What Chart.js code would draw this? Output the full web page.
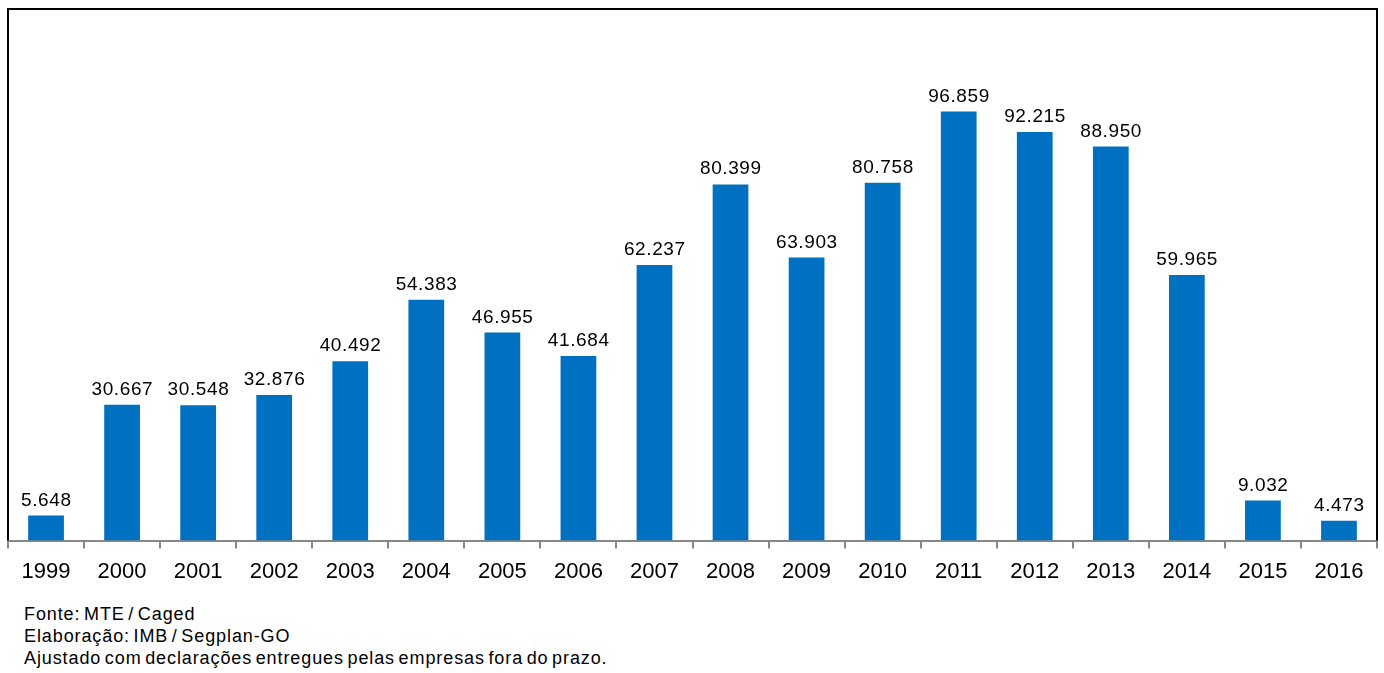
<!DOCTYPE html>
<html>
<head>
<meta charset="utf-8">
<script src="https://cdn.jsdelivr.net/npm/chart.js@4/dist/chart.umd.min.js"></script>
<style>
    html, body { margin: 0; padding: 0; background: #fff; }
    #wrap { position: relative; width: 1384px; height: 673px; }
    #chartBox { position: absolute; left: 0; top: 0; width: 1384px; height: 600px; }
    #notes {
        position: absolute; left: 24px; top: 603px;
        font-family: 'Liberation Sans', Arial, sans-serif; font-size: 18px; line-height: 22px; color: #000;
        letter-spacing: 0.9px; word-spacing: -2.3px; white-space: nowrap;
    }
</style>
</head>
<body>
<div id="wrap">
    <div id="chartBox"><canvas id="c"></canvas></div>
    <div id="notes">
        Fonte: MTE / Caged<br>
        Elaboração: IMB / Segplan-GO<br>
        Ajustado com declarações entregues pelas empresas fora do prazo.
    </div>
</div>
<script>
const years = ['1999', '2000', '2001', '2002', '2003', '2004', '2005', '2006', '2007',
    '2008', '2009', '2010', '2011', '2012', '2013', '2014', '2015', '2016'];
const values = [5648, 30667, 30548, 32876, 40492, 54383, 46955, 41684, 62237,
    80399, 63903, 80758, 96859, 92215, 88950, 59965, 9032, 4473];

// 5648 -> "5.648"
const fmt = v => String(v).replace(/\B(?=(\d{3})+(?!\d))/g, '.');

const frame = {
    id: 'frame',
    afterDraw(chart) {
        const { ctx, chartArea: a } = chart;
        ctx.save();
        ctx.strokeStyle = '#000';
        ctx.lineWidth = 2;
        ctx.beginPath();
        ctx.moveTo(a.left, a.bottom);
        ctx.lineTo(a.left, a.top);
        ctx.lineTo(a.right, a.top);
        ctx.lineTo(a.right, a.bottom);
        ctx.stroke();
        ctx.restore();
    }
};

const valueLabels = {
    id: 'valueLabels',
    afterDatasetsDraw(chart) {
        const { ctx } = chart;
        ctx.save();
        ctx.font = "19px 'Liberation Sans', Arial, sans-serif";
        ctx.letterSpacing = '0.6px';
        ctx.fillStyle = '#000';
        ctx.textAlign = 'center';
        ctx.textBaseline = 'alphabetic';
        chart.getDatasetMeta(0).data.forEach((bar, i) => {
            ctx.fillText(fmt(values[i]), bar.x + 0.3, bar.y - 10);
        });
        ctx.restore();
    }
};

new Chart(document.getElementById('c'), {
    type: 'bar',
    data: {
        labels: years,
        datasets: [{
            data: values,
            backgroundColor: '#0070C0',
            categoryPercentage: 1,
            barPercentage: 0.47
        }]
    },
    options: {
        responsive: true,
        maintainAspectRatio: false,
        animation: false,
        layout: { padding: { left: 8, right: 7, top: 9, bottom: 5 } },
        plugins: { legend: { display: false }, tooltip: { enabled: false } },
        scales: {
            y: { display: false, min: 0, max: 120000 },
            x: {
                border: { color: '#888', width: 2 },
                grid: { drawOnChartArea: false, color: '#888', lineWidth: 2, tickLength: 8 },
                ticks: {
                    color: '#000', padding: 10, maxRotation: 0,
                    font: { family: "'Liberation Sans', Arial, sans-serif", size: 22 }
                }
            }
        }
    },
    plugins: [frame, valueLabels]
});
</script>
</body>
</html>
